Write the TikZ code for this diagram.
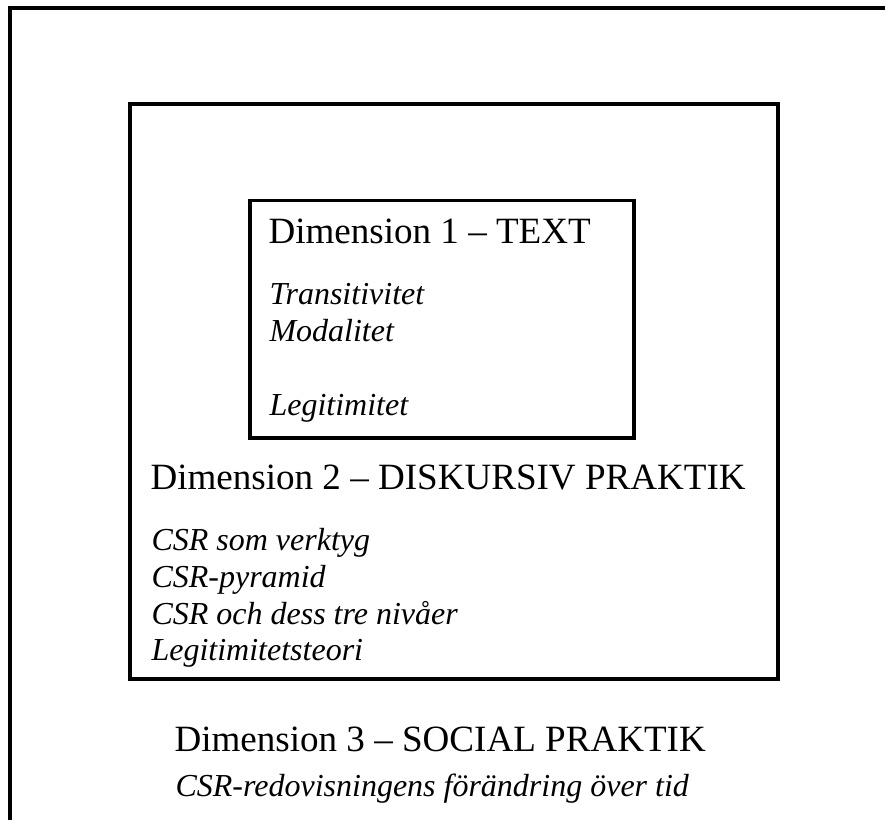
\documentclass[tikz,border=0pt]{standalone}
\usepackage{fontspec}
\setmainfont{Liberation Serif}
\begin{document}
\begin{tikzpicture}[x=0.375pt,y=-0.375pt,
  outerline/.style={line width=1.5pt, line join=miter},
  midframe/.style={line width=1.5pt},
  innerframe/.style={line width=1.3pt},
  head/.style={anchor=base west, inner sep=0pt, font=\fontsize{13.9}{16}\selectfont},
  item/.style={anchor=base west, inner sep=0pt, font=\fontsize{12}{14}\selectfont\itshape}]
\useasboundingbox (0,0) rectangle (885,820);
% outer frame (only top and left visible)
\draw[outerline] (10,820) -- (10,8) -- (885,8);
% middle frame
\draw[midframe] (130,104) rectangle (778,679.5);
% inner frame
\draw[innerframe] (250,200.5) rectangle (634,438);
% Dimension 1
\node[head] (d1) at (268,244) {Dimension 1 – TEXT};
\node[item] (d1a) at (269,305) {Transitivitet};
\node[item] (d1b) at (269,342) {Modalitet};
\node[item] (d1c) at (269,416) {Legitimitet};
% Dimension 2
\node[head] (d2) at (150,490) {Dimension 2 – DISKURSIV PRAKTIK};
\node[item] (d2a) at (151,551) {CSR som verktyg};
\node[item] (d2b) at (151,588) {CSR-pyramid};
\node[item] (d2c) at (151,624.5) {CSR och dess tre nivåer};
\node[item] (d2d) at (151,661) {Legitimitetsteori};
% Dimension 3
\node[head] (d3) at (174,752) {Dimension 3 – SOCIAL PRAKTIK};
\node[item] (d3a) at (175,797) {CSR-redovisningens förändring över tid};
\end{tikzpicture}
\end{document}
